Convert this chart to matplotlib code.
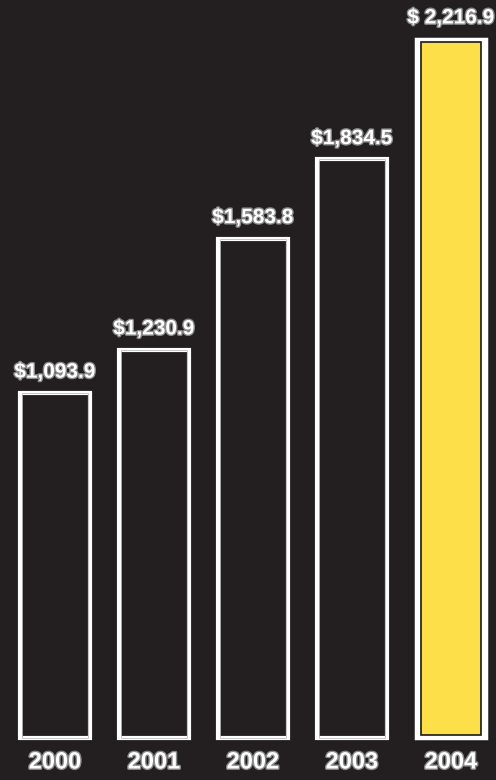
import matplotlib.pyplot as plt
import matplotlib.patheffects as pe

# revenue by year, $ millions
years = ["2000", "2001", "2002", "2003", "2004"]
values = [1093.9, 1230.9, 1583.8, 1834.5, 2216.9]
value_labels = ["$1,093.9", "$1,230.9", "$1,583.8", "$1,834.5", "$ 2,216.9"]

bg = "#231f20"
yellow = "#fddf4a"

plt.rcParams["font.family"] = ["Liberation Sans", "DejaVu Sans"]

fig = plt.figure(figsize=(4.96, 7.8), dpi=100, facecolor=bg)
ax = fig.add_axes([0, 0, 1, 1])
ax.set_facecolor(bg)

x = list(range(len(years)))
w = 0.70

# outlined bars for earlier years
ax.bar(x[:-1], values[:-1], width=w, facecolor=bg, edgecolor="white",
       linewidth=3.0, zorder=2)
ax.bar(x[:-1], values[:-1], width=w - 0.03, facecolor="none",
       edgecolor="#bdbdbd", linewidth=0.6, zorder=3)

# highlighted latest year: white frame, dark keyline, yellow fill
ax.bar(x[-1], values[-1], width=w, facecolor="white", edgecolor="white",
       linewidth=2.5, zorder=2)
ax.bar(x[-1], values[-1] - 22, bottom=11, width=w - 0.09, facecolor=yellow,
       edgecolor="#1a1a1a", linewidth=1.2, zorder=3)

halo = [pe.withStroke(linewidth=2.0, foreground="#8a8a8a")]
for xi, v, lab in zip(x, values, value_labels):
    ax.text(xi, v + 36, lab, ha="center", va="bottom", color="white",
            fontsize=15, fontweight="bold", path_effects=halo, zorder=4)

for xi, yr in zip(x, years):
    ax.text(xi, -76, yr, ha="center", va="center", color="white",
            fontsize=17, fontweight="bold", path_effects=halo, zorder=4)

ax.set_xlim(-0.556, 4.455)
ax.set_ylim(-133, 2340)
ax.axis("off")

fig.savefig("out.png", dpi=100, facecolor=bg)
